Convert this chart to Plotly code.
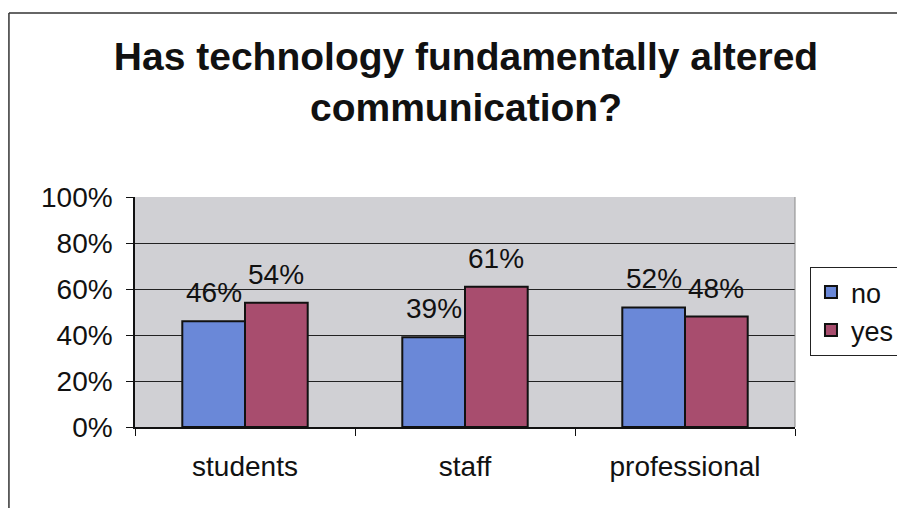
import plotly.graph_objects as go

categories = ["students", "staff", "professional"]
no_vals = [0.46, 0.39, 0.52]
yes_vals = [0.54, 0.61, 0.48]
tick_vals = [0, 0.2, 0.4, 0.6, 0.8, 1.0]
tick_text = ["0%", "20%", "40%", "60%", "80%", "100%"]

FONT = "Liberation Sans, Arial, sans-serif"
BARGAP = 0.43
series = [("no", no_vals, "#6a88d8"), ("yes", yes_vals, "#a84d6e")]

fig = go.Figure()
for name, vals, col in series:
    fig.add_trace(go.Bar(
        name=name, x=categories, y=vals,
        marker=dict(color=col, line=dict(color="#111111", width=2)),
    ))

# data labels above each bar, placed through the category axis scale
bar_w = (1 - BARGAP) / len(series)
annotations = []
for si, (name, vals, col) in enumerate(series):
    off = (si - (len(series) - 1) / 2) * bar_w
    for ci, v in enumerate(vals):
        annotations.append(dict(
            x=ci + off, y=v, xref="x", yref="y", text=f"{round(v*100)}%",
            showarrow=False, xanchor="center", yanchor="bottom", yshift=11,
            font=dict(size=28, family=FONT, color="#111111"),
        ))

W, H = 897, 500
fig.update_layout(
    width=W, height=H,
    margin=dict(l=127, r=110, t=189, b=81, autoexpand=False),
    paper_bgcolor="white",
    plot_bgcolor="#d0d0d4",
    barmode="group", bargap=BARGAP, bargroupgap=0,
    font=dict(family=FONT, size=28, color="#111111"),
    title=dict(
        text="<b>Has technology fundamentally altered<br>communication?</b>",
        x=(466 - 8) / W, xanchor="center", xref="container",
        y=1 - 62 / H, yanchor="top", yref="container",
        font=dict(size=39, family=FONT, color="#111111"),
    ),
    showlegend=True,
    legend=dict(
        x=1.0227, xanchor="left", y=0.696, yanchor="top",
        bgcolor="white", bordercolor="#222222", borderwidth=1,
        font=dict(size=27, family=FONT), traceorder="normal",
    ),
    annotations=annotations,
    xaxis=dict(
        showline=True, linecolor="#111111", linewidth=1.5,
        ticks="outside", ticklen=7, tickcolor="#111111", tickson="boundaries",
        tickfont=dict(size=28), showgrid=False, ticklabelstandoff=14,
    ),
    yaxis=dict(
        range=[0, 1], tickvals=tick_vals, ticktext=tick_text,
        showline=True, linecolor="#111111", linewidth=1.5,
        ticks="outside", ticklen=7, tickcolor="#111111",
        showgrid=True, gridcolor="#222222", gridwidth=1,
        zeroline=False, tickfont=dict(size=28), ticklabelstandoff=8,
    ),
    shapes=[
        dict(type="line", xref="paper", yref="paper", x0=-0.191, x1=1.2, y0=1.8, y1=1.8,
             line=dict(color="#333333", width=1.5)),
        dict(type="line", xref="paper", yref="paper", x0=-0.191, x1=-0.191, y0=1.8, y1=-0.4,
             line=dict(color="#333333", width=1.5)),
        dict(type="line", xref="paper", yref="paper", x0=1, x1=1, y0=0, y1=1,
             line=dict(color="#888888", width=1)),
    ],
)

fig.write_html("out.html")
